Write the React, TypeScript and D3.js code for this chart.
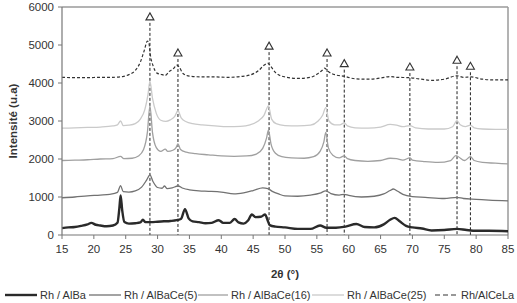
import React from 'react';
import * as d3 from 'd3';

// constants
const width = 517;
const height = 303;
const margin = { top: 7, right: 9, bottom: 68, left: 62 };
const font = '"Liberation Sans", Arial, sans-serif';

// data: [2theta, intensity]
const rhAlBa: [number, number][] = [
  [15, 180], [16, 200], [17, 210], [18, 240], [19, 280], [19.6, 320], [20.3, 270], [21, 250], [22, 230],
  [23, 250], [23.7, 320], [24.0, 700], [24.2, 1040], [24.45, 650], [24.8, 340], [25.5, 300], [26.5, 310],
  [27.3, 330], [27.7, 400], [28.1, 340], [29, 340], [30, 350], [31, 360], [32, 370], [33, 390], [33.7, 430],
  [34.3, 680], [34.9, 430], [35.5, 360], [36.5, 340], [37.5, 310], [38.5, 320], [39.6, 390], [40.3, 320],
  [41.3, 320], [42.1, 420], [42.7, 330], [43.5, 300], [44.2, 380], [44.8, 540], [45.4, 470], [46.2, 480],
  [46.9, 540], [47.2, 420], [47.6, 260], [48.5, 220], [50, 200], [52, 160], [54, 160], [55.5, 250],
  [56.5, 190], [58, 190], [59.5, 220], [61.2, 290], [62.5, 210], [64, 200], [65.5, 280], [66.5, 400],
  [67.2, 450], [68, 360], [69, 240], [70, 200], [71.5, 170], [73, 120], [75, 130], [77, 160], [78.5, 130],
  [80, 110], [82, 110], [85, 100],
];
const rhAlBaCe5: [number, number][] = [
  [15, 980], [17, 1000], [19, 1030], [21, 1050], [22.5, 1070], [23.7, 1120], [24.2, 1300], [24.6, 1140],
  [25.5, 1130], [26.5, 1160], [27.5, 1260], [28.3, 1450], [28.8, 1580], [29.3, 1400], [30, 1250],
  [30.7, 1230], [31.1, 1290], [31.5, 1220], [32.3, 1240], [33.2, 1290], [34, 1230], [35, 1190], [36.5, 1160],
  [38, 1150], [40, 1130], [42, 1080], [43.5, 1110], [45, 1170], [46.5, 1240], [47.3, 1220], [48, 1150],
  [49, 1080], [50, 1030], [52, 1020], [54, 1050], [55.5, 1100], [56.4, 1160], [57.2, 1090], [58.5, 1050],
  [59.3, 1070], [60, 1040], [62, 1000], [64, 1020], [65.5, 1080], [66.5, 1170], [67, 1210], [67.7, 1150],
  [68.5, 1070], [70, 1010], [72, 990], [75, 960], [77, 990], [78, 960], [80, 940], [82, 920], [85, 900],
];
const rhAlBaCe16: [number, number][] = [
  [15, 1960], [17, 1970], [19, 1980], [21, 2000], [23, 2010], [24.2, 2070], [24.7, 2010], [26, 2020],
  [27, 2080], [27.8, 2250], [28.4, 2700], [28.8, 3400], [29.2, 2700], [29.8, 2300], [30.5, 2200],
  [31.2, 2260], [31.6, 2200], [32.4, 2230], [32.9, 2300], [33.2, 2400], [33.6, 2250], [34.5, 2180],
  [36, 2140], [38, 2110], [40, 2080], [42, 2070], [44, 2080], [45.5, 2130], [46.5, 2280], [47.1, 2550],
  [47.4, 2760], [47.8, 2400], [48.5, 2150], [49.5, 2060], [51, 2030], [53, 2020], [54.5, 2060], [55.5, 2200],
  [56.1, 2450], [56.4, 2700], [56.8, 2300], [57.5, 2100], [58.5, 2030], [59.3, 2080], [59.8, 2010],
  [61, 1960], [63, 1940], [65, 1960], [66.5, 2020], [67.5, 2010], [68.5, 1970], [69.6, 2030], [70, 1970],
  [72, 1930], [74, 1910], [76, 1960], [76.8, 2090], [77.2, 2060], [78.2, 1960], [79.1, 2060], [79.7, 1960],
  [81, 1910], [83, 1890], [85, 1870],
];
const rhAlBaCe25: [number, number][] = [
  [15, 2810], [17, 2820], [19, 2830], [21, 2840], [23, 2870], [23.7, 2900], [24.2, 3000], [24.6, 2880],
  [25.5, 2890], [26.5, 2930], [27.3, 3050], [28, 3300], [28.5, 3700], [28.8, 4050], [29.2, 3600],
  [29.8, 3200], [30.5, 3020], [31.3, 2990], [32, 3030], [32.7, 3120], [33.2, 3270], [33.7, 3080],
  [34.5, 2980], [35.5, 2930], [37, 2900], [39, 2870], [41, 2850], [43, 2860], [44.5, 2900], [45.8, 3000],
  [46.7, 3150], [47.4, 3400], [47.9, 3050], [48.6, 2930], [50, 2880], [52, 2870], [54, 2890], [55.2, 3000],
  [55.9, 3150], [56.4, 3350], [56.9, 3000], [57.8, 2900], [58.6, 2900], [59.3, 2950], [59.8, 2870],
  [61, 2820], [63, 2810], [65, 2840], [66.5, 2910], [67.5, 2890], [68.5, 2850], [69.6, 2880], [70.5, 2820],
  [72.5, 2790], [75, 2790], [76.3, 2850], [77, 3010], [77.5, 2900], [78.3, 2850], [79.1, 2890],
  [79.7, 2820], [81, 2790], [83, 2780], [85, 2780],
];
const rhAlCeLa: [number, number][] = [
  [15, 4150], [17, 4140], [19, 4140], [21, 4150], [23, 4150], [24.5, 4170], [25.5, 4220], [26.5, 4330],
  [27.3, 4550], [27.9, 4850], [28.4, 5100], [28.6, 5080], [28.9, 4700], [29.3, 4450], [29.9, 4260],
  [30.5, 4230], [31.2, 4200], [31.8, 4300], [32.5, 4380], [33.0, 4470], [33.4, 4420], [34, 4250],
  [35, 4180], [37, 4160], [39, 4160], [41, 4150], [43, 4170], [44.5, 4210], [45.8, 4320], [46.8, 4480],
  [47.3, 4520], [47.8, 4430], [48.6, 4260], [50, 4160], [52, 4120], [54, 4150], [55, 4230], [55.8, 4330],
  [56.2, 4390], [56.8, 4300], [57.8, 4220], [59.2, 4180], [61, 4110], [63, 4100], [65, 4130], [66.5, 4170],
  [67.5, 4150], [69.5, 4140], [71, 4110], [73, 4070], [75, 4100], [77, 4190], [78, 4150], [79.2, 4160],
  [81, 4100], [83, 4080], [85, 4080],
];

// reference peaks (triangles)
const refPeaks = [28.8, 33.2, 47.5, 56.6, 59.3, 69.6, 77.0, 79.1];
const refMarkY = [5740, 4790, 4970, 4790, 4510, 4420, 4600, 4440];

const xTicks = [15, 20, 25, 30, 35, 40, 45, 50, 55, 60, 65, 70, 75, 80, 85];
const yTicks = [0, 1000, 2000, 3000, 4000, 5000, 6000];

const series = [
  { name: 'Rh / AlBa', data: rhAlBa, color: '#2a2a2a', w: 2.4, dash: '' },
  { name: 'Rh / AlBaCe(5)', data: rhAlBaCe5, color: '#727272', w: 1.3, dash: '' },
  { name: 'Rh / AlBaCe(16)', data: rhAlBaCe16, color: '#a0a0a0', w: 1.3, dash: '' },
  { name: 'Rh / AlBaCe(25)', data: rhAlBaCe25, color: '#cacaca', w: 1.3, dash: '' },
  { name: 'Rh/AlCeLa', data: rhAlCeLa, color: '#333333', w: 1.2, dash: '3,2' },
];
const legendX = [5, 89, 198, 312, 435];
const legendLen = [32, 32, 30, 32, 23];

const App = () => {
  const x = d3.scaleLinear().domain([15, 85]).range([margin.left, width - margin.right]);
  const y = d3.scaleLinear().domain([0, 6000]).range([height - margin.bottom, margin.top]);
  const line = d3.line<[number, number]>()
    .x(d => x(d[0]))
    .y(d => y(d[1]))
    .curve(d3.curveMonotoneX);
  const y0 = y(0);

  return (
    <svg width={width} height={height} style={{ position: 'absolute', left: 0, top: 0, fontFamily: font }}>
      <rect width={width} height={height} fill="#fff" />
      {/* frame */}
      <line x1={x(15)} x2={x(85)} y1={y(6000)} y2={y(6000)} stroke="#9a9a9a" strokeWidth={1.5} />
      <line x1={x(85)} x2={x(85)} y1={y(6000)} y2={y0} stroke="#9a9a9a" strokeWidth={1.5} />

      {/* reference lines */}
      {refPeaks.map((p, i) => (
        <g key={'r' + i}>
          <line x1={x(p)} x2={x(p)} y1={y(refMarkY[i]) + 6} y2={y0} stroke="#222" strokeWidth={1} strokeDasharray="3,2" />
          <path
            d={`M${x(p)},${y(refMarkY[i]) - 4} L${x(p) + 4},${y(refMarkY[i]) + 3} L${x(p) - 4},${y(refMarkY[i]) + 3} Z`}
            fill="#fff" stroke="#333" strokeWidth={1.1}
          />
        </g>
      ))}

      {/* series, drawn back to front */}
      {[...series].reverse().map(s => (
        <path key={s.name} d={line(s.data) || ''} fill="none" stroke={s.color} strokeWidth={s.w}
          strokeDasharray={s.dash} strokeLinejoin="round" />
      ))}

      {/* axes */}
      <line x1={x(15)} x2={x(15)} y1={y(6000)} y2={y0} stroke="#777" strokeWidth={1.2} />
      <line x1={x(15)} x2={x(85)} y1={y0} y2={y0} stroke="#777" strokeWidth={1.2} />
      {yTicks.map(t => (
        <g key={'y' + t}>
          <line x1={x(15) - 4} x2={x(15)} y1={y(t)} y2={y(t)} stroke="#777" />
          <text x={x(15) - 8} y={y(t)} dy="0.35em" textAnchor="end" fontSize={11.5} fill="#333">{t}</text>
        </g>
      ))}
      {xTicks.map(t => (
        <g key={'x' + t}>
          <line x1={x(t)} x2={x(t)} y1={y0} y2={y0 + 4} stroke="#777" />
          <text x={x(t)} y={y0 + 18} textAnchor="middle" fontSize={11.5} fill="#333">{t}</text>
        </g>
      ))}
      <text transform={`translate(17,${(y(6000) + y0) / 2}) rotate(-90)`} textAnchor="middle"
        fontSize={11.5} fontWeight="bold" fill="#333">Intensité (u.a)</text>
      <text x={(x(15) + x(85)) / 2} y={278} textAnchor="middle" fontSize={11.5} fontWeight="bold" fill="#333">2θ (°)</text>

      {/* legend */}
      {series.map((s, i) => (
        <g key={'l' + i}>
          <line x1={legendX[i]} x2={legendX[i] + legendLen[i]} y1={295} y2={295} stroke={s.color}
            strokeWidth={s.w} strokeDasharray={s.dash ? '5,3' : ''} />
          <text x={legendX[i] + legendLen[i] + 3} y={295} dy="0.35em" fontSize={11} fill="#333">{s.name}</text>
        </g>
      ))}
    </svg>
  );
};

export default App;
